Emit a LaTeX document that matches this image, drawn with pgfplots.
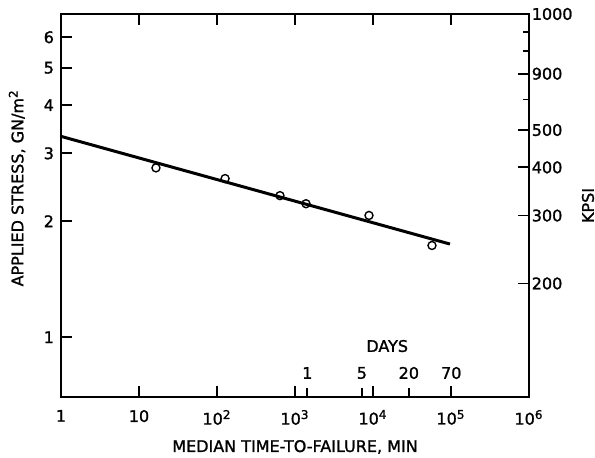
\documentclass[border=0pt]{standalone}
\usepackage{fontspec}
\setmainfont{DejaVu Sans}[BoldFont=DejaVu Sans, BoldFeatures={FakeBold=1.3}]
\usepackage{pgfplots}
\pgfplotsset{compat=1.18}

\begin{document}
\begin{tikzpicture}
\pgfplotsset{
  every axis/.append style={
    scale only axis,
    width=234pt, height=191.5pt,
    font=\fontsize{8}{9.6}\selectfont\bfseries,
    axis line style={line width=1pt},
    tick style={line width=0.9pt, black},
    major tick length=5.5pt,
    minor tick length=2.8pt,
    tick align=inside,
    /pgf/number format/assume math mode=true,
  },
}
\begin{axis}[
  name=main,
  xmode=log, ymode=log,
  xmin=1, xmax=1e6,
  ymin=0.70, ymax=6.895,
  xtick={1,10,100,1000,10000,100000,1000000},
  xticklabels={1,10,10\textsuperscript{2},10\textsuperscript{3},10\textsuperscript{4},10\textsuperscript{5},10\textsuperscript{6}},
  ytick={1,2,3,4,5,6},
  yticklabels={1,2,3,4,5,6},
  minor tick length=0pt,
  ytick pos=left,
  xticklabel style={yshift=-3pt},
  xlabel={MEDIAN TIME-TO-FAILURE, MIN},
  ylabel={APPLIED STRESS, GN/m\textsuperscript{2}},
  xlabel style={at={(axis description cs:0.5,-0.1305)}, anchor=center, inner sep=0pt},
  ylabel style={at={(axis description cs:-0.094,0.546)}, anchor=center, inner sep=0pt},
  clip=false,
]
\addplot[black, line width=1.5pt] coordinates {(1,3.32) (97000,1.745)};
\addplot[only marks, mark=o, mark size=2pt, mark options={line width=0.7pt, fill=white}] coordinates {
  (16.5,2.75) (127,2.58) (642,2.33) (1384,2.22) (8886,2.07) (57060,1.73)
};
% day scale ticks on the time axis
\draw[line width=0.9pt] (axis cs:1440,0.70) -- ++(0pt,4.5pt);
\draw[line width=0.9pt] (axis cs:7200,0.70) -- ++(0pt,4.5pt);
\draw[line width=0.9pt] (axis cs:28800,0.70) -- ++(0pt,4.5pt);
\node at (axis description cs:0.697,0.133) {DAYS};
\node at (axis cs:1440,0.70) [yshift=12pt] {1};
\node at (axis cs:7200,0.70) [yshift=12pt] {5};
\node at (axis cs:28800,0.70) [yshift=12pt] {20};
\node at (axis cs:100800,0.70) [yshift=12pt] {70};
\end{axis}
\begin{axis}[
  xmode=log, ymode=log,
  xmin=1, xmax=1e6,
  ymin=101.5, ymax=1000,
  axis x line=none,
  axis y line*=right,
  ytick={200,300,400,500,700,1000},
  yticklabels={200,300,400,500,900,1000},
  yticklabel style={inner sep=1.2pt},
  minor ytick={600,800,900},
  ylabel={KPSI},
  ylabel style={at={(axis description cs:1.126,0.5)}, anchor=center, rotate=0, inner sep=0pt},
]
\end{axis}
\path ([shift={(-30.5pt,-30.5pt)}]main.south west) rectangle ([shift={(33pt,7pt)}]main.north east);
\end{tikzpicture}
\end{document}
